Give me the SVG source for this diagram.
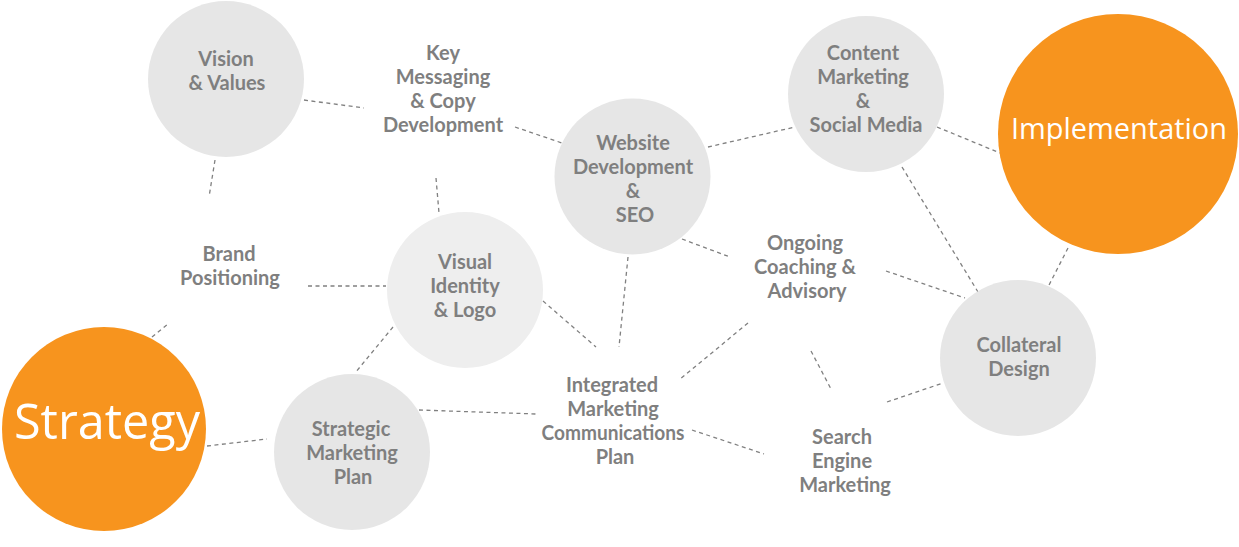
<svg xmlns="http://www.w3.org/2000/svg" width="1239" height="547" viewBox="0 0 1239 547">
<style>
.bg{fill:#ffffff}
.gc{fill:#e6e6e6}
.gl{fill:#eeeeee}
.oc{fill:#f7941e}
.t{font-family:Lato,"Open Sans","Liberation Sans",sans-serif;font-weight:bold;font-size:20px;fill:#7f7f7f;text-anchor:middle}
.w{font-family:"Open Sans","Liberation Sans",sans-serif;fill:#ffffff;text-anchor:middle}
.c line{stroke:#808080;stroke-width:1.3;stroke-dasharray:4 3.5;fill:none}
</style>
<rect class="bg" x="0" y="0" width="1239" height="547"/>
<g id="connectors" class="c">
<line x1="304" y1="100" x2="364" y2="108"/>
<line x1="515" y1="127" x2="562" y2="143"/>
<line x1="215" y1="160" x2="209" y2="197"/>
<line x1="436" y1="178" x2="439" y2="213"/>
<line x1="708" y1="147" x2="795" y2="127"/>
<line x1="937" y1="127" x2="1000" y2="153"/>
<line x1="902" y1="167" x2="978" y2="292"/>
<line x1="1068" y1="248" x2="1048" y2="287"/>
<line x1="886" y1="271" x2="965" y2="298"/>
<line x1="682" y1="239" x2="730" y2="257"/>
<line x1="628" y1="257" x2="619" y2="347"/>
<line x1="543" y1="301" x2="596" y2="347"/>
<line x1="748" y1="323" x2="679" y2="380"/>
<line x1="811" y1="351" x2="831" y2="389"/>
<line x1="887" y1="402" x2="943" y2="383"/>
<line x1="692" y1="430" x2="764" y2="454"/>
<line x1="419" y1="410" x2="536" y2="414"/>
<line x1="393" y1="327" x2="355" y2="373"/>
<line x1="308" y1="286" x2="386" y2="286"/>
<line x1="152" y1="337" x2="168" y2="324"/>
<line x1="207" y1="446" x2="267" y2="439"/>
</g>
<g id="vision">
<circle class="gc" cx="226" cy="79" r="78"/>
<text class="t" x="226" y="66">Vision</text>
<text class="t" x="227" y="90">&amp; Values</text>
</g>
<g id="key-messaging">
<text class="t" x="443" y="60">Key</text>
<text class="t" x="443" y="84">Messaging</text>
<text class="t" x="443" y="108">&amp; Copy</text>
<text class="t" x="443" y="132">Development</text>
</g>
<g id="website">
<circle class="gc" cx="632.5" cy="176.5" r="78"/>
<text class="t" x="633" y="150">Website</text>
<text class="t" x="633" y="174">Development</text>
<text class="t" x="633" y="198">&amp;</text>
<text class="t" x="635" y="222">SEO</text>
</g>
<g id="content-marketing">
<circle class="gc" cx="866" cy="94" r="78"/>
<text class="t" x="863" y="60">Content</text>
<text class="t" x="863" y="84">Marketing</text>
<text class="t" x="863" y="108">&amp;</text>
<text class="t" x="866" y="132">Social Media</text>
</g>
<g id="implementation">
<circle class="oc" cx="1118" cy="134" r="120"/>
<text class="w" x="1119" y="139" font-size="30" textLength="216" lengthAdjust="spacingAndGlyphs">Implementation</text>
</g>
<g id="brand-positioning">
<text class="t" x="229" y="261">Brand</text>
<text class="t" x="230" y="285">Positioning</text>
</g>
<g id="visual-identity">
<circle class="gl" cx="465" cy="290" r="78"/>
<text class="t" x="465" y="269">Visual</text>
<text class="t" x="465" y="293">Identity</text>
<text class="t" x="465" y="317">&amp; Logo</text>
</g>
<g id="ongoing-coaching">
<text class="t" x="805" y="250">Ongoing</text>
<text class="t" x="805" y="274">Coaching &amp;</text>
<text class="t" x="807" y="298">Advisory</text>
</g>
<g id="collateral">
<circle class="gc" cx="1018" cy="358" r="78"/>
<text class="t" x="1019" y="352">Collateral</text>
<text class="t" x="1019" y="376">Design</text>
</g>
<g id="strategy">
<circle class="oc" cx="104" cy="429" r="102"/>
<text class="w" x="107" y="439" font-size="49" textLength="186" lengthAdjust="spacingAndGlyphs">Strategy</text>
</g>
<g id="strategic-plan">
<circle class="gc" cx="352" cy="452" r="78"/>
<text class="t" x="351" y="436">Strategic</text>
<text class="t" x="352" y="460">Marketing</text>
<text class="t" x="353" y="484">Plan</text>
</g>
<g id="integrated">
<text class="t" x="612" y="392">Integrated</text>
<text class="t" x="613" y="416">Marketing</text>
<text class="t" x="613" y="440" textLength="143" lengthAdjust="spacingAndGlyphs">Communications</text>
<text class="t" x="615" y="464">Plan</text>
</g>
<g id="search-engine">
<text class="t" x="842" y="444">Search</text>
<text class="t" x="842" y="468">Engine</text>
<text class="t" x="845" y="492">Marketing</text>
</g>
</svg>
